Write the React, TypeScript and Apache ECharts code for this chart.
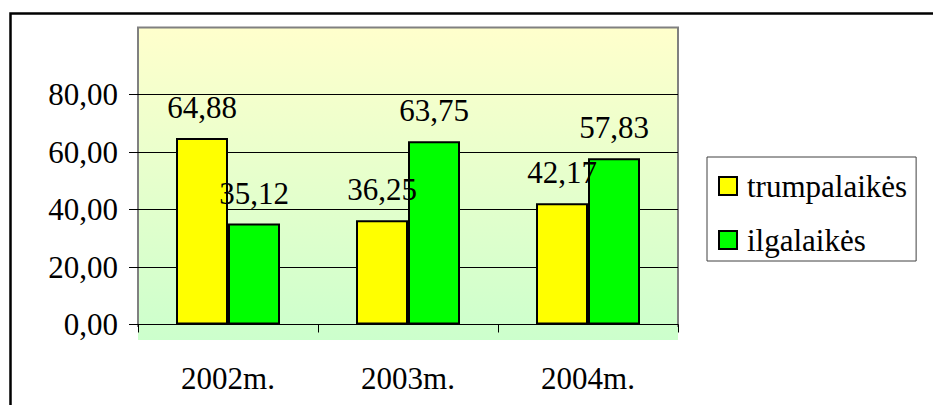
import React, { useEffect, useRef } from "react";
import * as echarts from "echarts";

const categories = ["2002m.", "2003m.", "2004m."];
const seriesNames = ["trumpalaikės", "ilgalaikės"];
const trumpalaikes = [64.88, 36.25, 42.17];
const ilgalaikes = [35.12, 63.75, 57.83];
const yMin = 0;
const yMax = 80;
const yInterval = 20;

const FONT = "'Liberation Serif', 'Times New Roman', serif";
const fmt = (v: number) => v.toFixed(2).replace(".", ",");

export default function App() {
  const ref = useRef<HTMLDivElement>(null);
  useEffect(() => {
    if (!ref.current) return;
    const chart = echarts.init(ref.current, undefined, { renderer: "svg" });
    const labelStyle = {
      show: true,
      position: "top",
      distance: 15,
      fontSize: 31,
      lineHeight: 31,
      fontFamily: FONT,
      color: "#000",
      formatter: (p: any) => fmt(p.value),
    };
    chart.setOption({
      animation: false,
      backgroundColor: "#fff",
      textStyle: { fontFamily: FONT, color: "#000" },
      grid: { left: 138, right: 255, top: 94.5, bottom: 80.5, containLabel: false },
      graphic: [
        {
          type: "rect",
          z: -10,
          shape: { x: 10.5, y: 13.5, width: 940, height: 420 },
          style: { fill: "none", stroke: "#000", lineWidth: 2.5 },
        },
        {
          type: "rect",
          z: -5,
          shape: { x: 138, y: 27.5, width: 540, height: 312.5 },
          style: {
            fill: new echarts.graphic.LinearGradient(0, 0, 0, 1, [
              { offset: 0, color: "#FFFFCC" },
              { offset: 1, color: "#CCFFCC" },
            ]),
          },
        },
        {
          type: "polyline",
          z: -4,
          shape: { points: [[138, 327], [138, 27.5], [678, 27.5], [678, 327]] },
          style: { fill: "none", stroke: "#808080", lineWidth: 2 },
        },
      ],
      legend: {
        orient: "vertical",
        left: 707,
        top: 157,
        data: seriesNames,
        icon: "rect",
        itemWidth: 18,
        itemHeight: 18,
        itemGap: 18,
        padding: [11, 9, 3, 11],
        backgroundColor: "#fff",
        borderColor: "#404040",
        borderWidth: 1,
        borderRadius: 0,
        itemStyle: { borderColor: "#000", borderWidth: 2 },
        textStyle: {
          fontSize: 31,
          lineHeight: 36,
          fontFamily: FONT,
          color: "#000",
          padding: [0, 0, 0, 5],
        },
      },
      xAxis: {
        type: "category",
        data: categories,
        axisLine: { show: true, lineStyle: { color: "#000", width: 1 } },
        axisTick: { show: true, length: 8, lineStyle: { color: "#000" } },
        axisLabel: { margin: 38, fontSize: 31, fontFamily: FONT, color: "#000" },
        splitLine: { show: false },
      },
      yAxis: {
        type: "value",
        min: yMin,
        max: yMax,
        interval: yInterval,
        axisLine: { show: false },
        axisTick: { show: true, length: 9, lineStyle: { color: "#000" } },
        axisLabel: {
          margin: 20,
          fontSize: 31,
          fontFamily: FONT,
          color: "#000",
          formatter: (v: number) => fmt(v),
        },
        splitLine: { show: true, lineStyle: { color: "#000", width: 1 } },
      },
      series: [
        {
          name: seriesNames[0],
          type: "bar",
          data: trumpalaikes,
          barWidth: 52,
          barGap: "0%",
          itemStyle: { color: "#FFFF00", borderColor: "#000", borderWidth: 2 },
          label: labelStyle,
        },
        {
          name: seriesNames[1],
          type: "bar",
          data: ilgalaikes,
          barWidth: 52,
          barGap: "0%",
          itemStyle: { color: "#00FF00", borderColor: "#000", borderWidth: 2 },
          label: labelStyle,
        },
      ],
    });
    return () => chart.dispose();
  }, []);
  return (
    <div
      ref={ref}
      style={{ position: "absolute", left: 0, top: 0, width: 933, height: 405 }}
    />
  );
}
